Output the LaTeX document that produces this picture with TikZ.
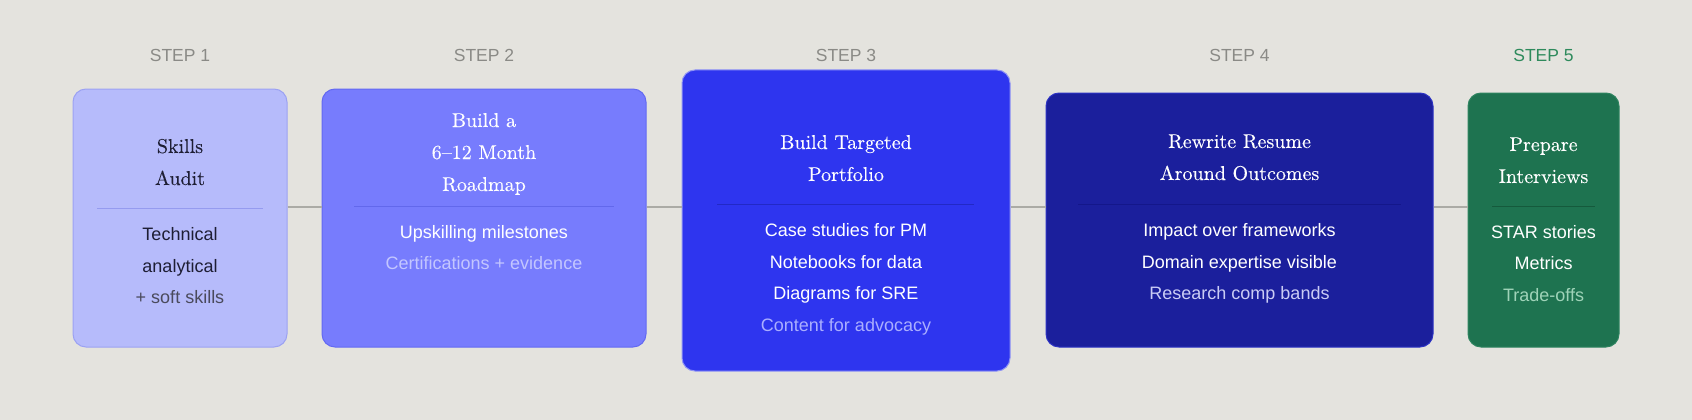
\documentclass[tikz,border=0pt]{standalone}
\usepackage{fontspec}
\newfontfamily\sansf{Liberation Sans}
\newfontfamily\ttlf{lmroman10-regular}[Extension=.otf, Ligatures=TeX, FakeBold=0.15, BoldFont=lmroman10-regular.otf]
\definecolor{bg}{HTML}{E4E3DE}
\definecolor{stepgray}{HTML}{8A8A86}
\definecolor{stepgreen}{HTML}{2E8A5C}
\definecolor{conn}{HTML}{ABABA5}
\definecolor{fA}{HTML}{B6BBFB}\definecolor{dA}{HTML}{9CA2F2}
\definecolor{fB}{HTML}{777CFD}\definecolor{dB}{HTML}{6369F2}
\definecolor{fC}{HTML}{2E35EF}\definecolor{dC}{HTML}{8F94F5}
\definecolor{fD}{HTML}{1B1F9C}\definecolor{dD}{HTML}{2D33C4}
\definecolor{fE}{HTML}{1E7350}\definecolor{dE}{HTML}{2E8460}
\definecolor{divA}{HTML}{959BEF}
\definecolor{divB}{HTML}{6268EC}
\definecolor{divC}{HTML}{2229C6}
\definecolor{divD}{HTML}{14178A}
\definecolor{divE}{HTML}{155A3C}
\definecolor{txA}{HTML}{1E1E34}
\definecolor{txAs}{HTML}{4A4A5C}
\definecolor{txBs}{HTML}{C3C6FF}
\definecolor{txCs}{HTML}{AAAEFF}
\definecolor{txDs}{HTML}{CACCF5}
\definecolor{txEs}{HTML}{9FD3B8}
\begin{document}
\begin{tikzpicture}[x=1pt,y=-1pt,
  box/.style={rounded corners=13pt, inner sep=0pt, line width=1pt},
  ttl/.style={anchor=base, inner sep=0pt, font=\ttlf\bfseries\fontsize{20}{24}\selectfont},
  bdy/.style={anchor=base, inner sep=0pt, font=\sansf\fontsize{18}{20}\selectfont},
  stp/.style={anchor=base, inner sep=0pt, font=\sansf\fontsize{17.5}{20}\selectfont, text=stepgray},
  divl/.style={line width=1pt},
  link/.style={draw=conn, line width=2pt}]
\useasboundingbox[fill=bg] (0,0) rectangle (1692,420);
% boxes
\node[box, draw=dA, fill=fA, minimum width=214pt, minimum height=258pt] (b1) at (180,218) {};
\node[box, draw=dB, fill=fB, minimum width=324pt, minimum height=258pt] (b2) at (484,218) {};
\node[box, draw=dC, fill=fC, minimum width=328pt, minimum height=301pt] (b3) at (846,220.5) {};
\node[box, draw=dD, fill=fD, minimum width=387pt, minimum height=254pt] (b4) at (1239.5,220) {};
\node[box, draw=dE, fill=fE, minimum width=151pt, minimum height=254pt] (b5) at (1543.5,220) {};
% connectors
\coordinate (cy) at (0,207);
\draw[link] (b1.east |- cy) -- (b2.west |- cy);
\draw[link] (b2.east |- cy) -- (b3.west |- cy);
\draw[link] (b3.east |- cy) -- (b4.west |- cy);
\draw[link] (b4.east |- cy) -- (b5.west |- cy);
% step labels
\node[stp] (s1) at (180,62) {STEP 1};
\node[stp] (s2) at (484,62) {STEP 2};
\node[stp] (s3) at (846,62) {STEP 3};
\node[stp] (s4) at (1239.5,62) {STEP 4};
\node[stp, text=stepgreen] (s5) at (1543.5,62) {STEP 5};
% box 1
\node[ttl, text=txA] (t1a) at (180,153) {Skills};
\node[ttl, text=txA] (t1b) at (180,185) {Audit};
\draw[divl, divA] (97,208) -- (263,208);
\node[bdy, text=txA] (l1a) at (180,240) {Technical};
\node[bdy, text=txA] (l1b) at (180,272) {analytical};
\node[bdy, text=txAs] (l1c) at (180,303) {+ soft skills};
% box 2
\node[ttl, text=white] (t2a) at (484,127) {Build a};
\node[ttl, text=white] (t2b) at (484,159) {6–12 Month};
\node[ttl, text=white] (t2c) at (484,191) {Roadmap};
\draw[divl, divB] (354,206) -- (614,206);
\node[bdy, text=white] (l2a) at (484,238) {Upskilling milestones};
\node[bdy, text=txBs] (l2b) at (484,269) {Certifications + evidence};
% box 3
\node[ttl, text=white] (t3a) at (846,149) {Build Targeted};
\node[ttl, text=white] (t3b) at (846,181) {Portfolio};
\draw[divl, divC] (717,204) -- (974,204);
\node[bdy, text=white] (l3a) at (846,236) {Case studies for PM};
\node[bdy, text=white] (l3b) at (846,268) {Notebooks for data};
\node[bdy, text=white] (l3c) at (846,299) {Diagrams for SRE};
\node[bdy, text=txCs] (l3d) at (846,331) {Content for advocacy};
% box 4
\node[ttl, text=white] (t4a) at (1239.5,148) {Rewrite Resume};
\node[ttl, text=white] (t4b) at (1239.5,180) {Around Outcomes};
\draw[divl, divD] (1078,204) -- (1401,204);
\node[bdy, text=white] (l4a) at (1239.5,236) {Impact over frameworks};
\node[bdy, text=white] (l4b) at (1239.5,268) {Domain expertise visible};
\node[bdy, text=txDs] (l4c) at (1239.5,299) {Research comp bands};
% box 5
\node[ttl, text=white] (t5a) at (1543.5,151) {Prepare};
\node[ttl, text=white] (t5b) at (1543.5,183) {Interviews};
\draw[divl, divE] (1492,206) -- (1595,206);
\node[bdy, text=white] (l5a) at (1543.5,238) {STAR stories};
\node[bdy, text=white] (l5b) at (1543.5,269) {Metrics};
\node[bdy, text=txEs] (l5c) at (1543.5,301) {Trade-offs};
\end{tikzpicture}
\end{document}
